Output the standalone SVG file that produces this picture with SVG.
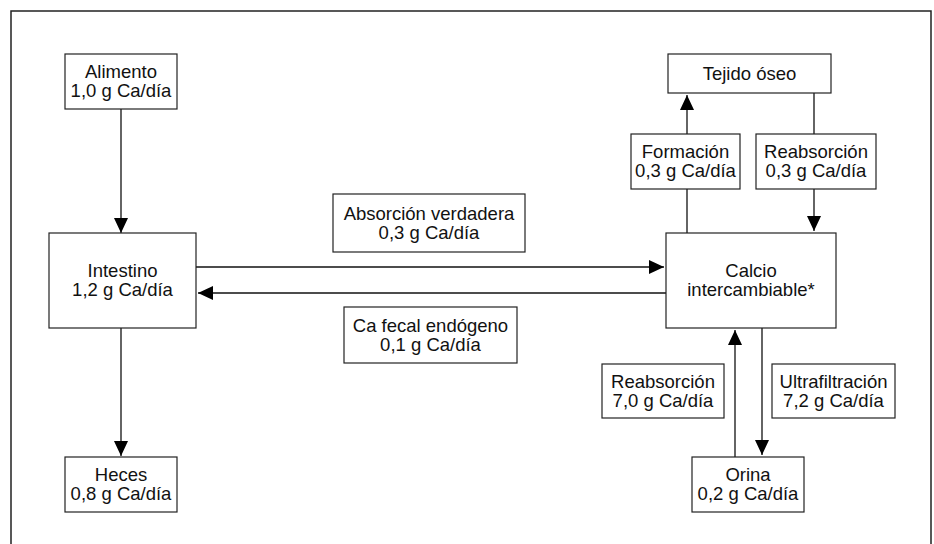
<svg xmlns="http://www.w3.org/2000/svg" width="934" height="544" viewBox="0 0 934 544">
<style>
.bx{fill:#fff;stroke:#222;stroke-width:1.2}
.ln{fill:none;stroke:#111;stroke-width:1.3}
text{font-family:"Liberation Sans",Arial,Helvetica,sans-serif;font-size:18.5px;fill:#111;text-anchor:middle}
</style>
<defs>
<marker id="ah" markerUnits="userSpaceOnUse" markerWidth="16" markerHeight="14" viewBox="0 0 16 14" refX="15" refY="7" orient="auto">
<path d="M0,0 L15,7 L0,14 Z" fill="#000"/>
</marker>
</defs>
<rect x="0" y="0" width="934" height="544" fill="#fff"/>
<path d="M11,550 V11 H931 V550" fill="none" stroke="#222" stroke-width="1.5"/>
<g id="connectors">
<line class="ln" x1="121" y1="109" x2="121" y2="233" marker-end="url(#ah)"/>
<line class="ln" x1="121" y1="328" x2="121" y2="456" marker-end="url(#ah)"/>
<line class="ln" x1="196" y1="267" x2="664" y2="267" marker-end="url(#ah)"/>
<line class="ln" x1="666" y1="293" x2="198" y2="293" marker-end="url(#ah)"/>
<line class="ln" x1="687" y1="233" x2="687" y2="95" marker-end="url(#ah)"/>
<line class="ln" x1="814" y1="93" x2="814" y2="231" marker-end="url(#ah)"/>
<line class="ln" x1="762" y1="328" x2="762" y2="455" marker-end="url(#ah)"/>
<line class="ln" x1="735" y1="457" x2="735" y2="330" marker-end="url(#ah)"/>
</g>
<g id="alimento"><rect class="bx" x="65" y="54" width="112" height="55"/><text x="121" y="78">Alimento</text><text x="121" y="97">1,0 g Ca/día</text></g>
<g id="intestino"><rect class="bx" x="49" y="233" width="147" height="95"/><text x="122.5" y="277">Intestino</text><text x="122.5" y="296">1,2 g Ca/día</text></g>
<g id="heces"><rect class="bx" x="65" y="457" width="112" height="55"/><text x="121" y="481">Heces</text><text x="121" y="500">0,8 g Ca/día</text></g>
<g id="absorcion"><rect class="bx" x="333" y="194" width="192" height="58"/><text x="429" y="220">Absorción verdadera</text><text x="429" y="239">0,3 g Ca/día</text></g>
<g id="cafecal"><rect class="bx" x="344" y="307" width="173" height="56"/><text x="430.5" y="332">Ca fecal endógeno</text><text x="430.5" y="351">0,1 g Ca/día</text></g>
<g id="tejido"><rect class="bx" x="668" y="54" width="163" height="39"/><text x="749.5" y="80">Tejido óseo</text></g>
<g id="formacion"><rect class="bx" x="631" y="134" width="109" height="55"/><text x="685.5" y="158">Formación</text><text x="685.5" y="177">0,3 g Ca/día</text></g>
<g id="reabsorcion-osea"><rect class="bx" x="756" y="134" width="120" height="55"/><text x="816" y="158">Reabsorción</text><text x="816" y="177">0,3 g Ca/día</text></g>
<g id="calcio"><rect class="bx" x="666" y="233" width="170" height="95"/><text x="751" y="277">Calcio</text><text x="751" y="296">intercambiable*</text></g>
<g id="reabsorcion-renal"><rect class="bx" x="602" y="364" width="122" height="54"/><text x="663" y="388">Reabsorción</text><text x="663" y="407">7,0 g Ca/día</text></g>
<g id="ultrafiltracion"><rect class="bx" x="772" y="364" width="123" height="54"/><text x="833.5" y="388">Ultrafiltración</text><text x="833.5" y="407">7,2 g Ca/día</text></g>
<g id="orina"><rect class="bx" x="692" y="457" width="112" height="55"/><text x="748" y="481">Orina</text><text x="748" y="500">0,2 g Ca/día</text></g>
</svg>
